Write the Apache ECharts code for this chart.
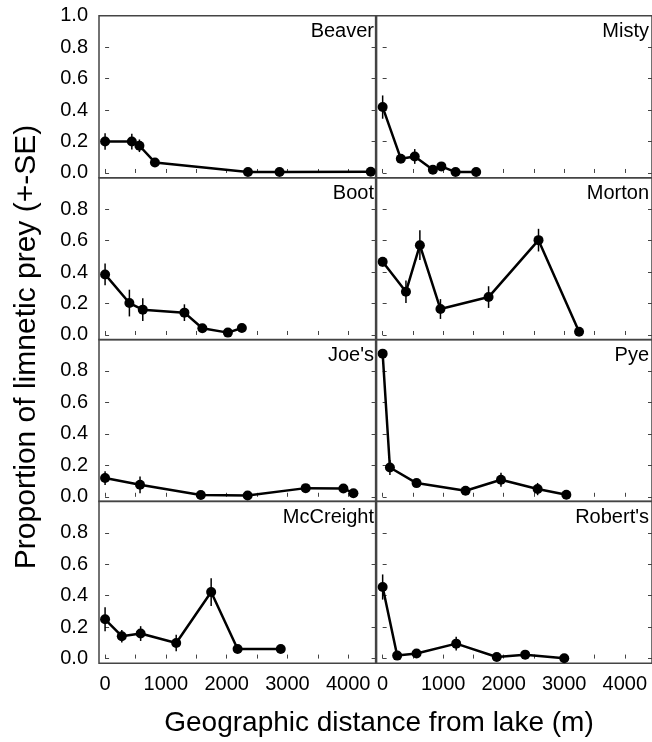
<!DOCTYPE html>
<html>
<head>
<meta charset="utf-8">
<script src="https://cdn.jsdelivr.net/npm/echarts@6/dist/echarts.min.js"></script>
<style>
  html, body { margin: 0; padding: 0; background: #fff; }
  #main { width: 652px; height: 742px; }
</style>
</head>
<body>
<div id="main"></div>
<script>
// 湖名 (panel order: left, right, row by row)
var lakeNames = ["Beaver", "Misty", "Boot", "Morton", "Joe's", "Pye", "McCreight", "Robert's"];

// distance from lake (m), proportion, SE
var beaverDist = [0, 440, 565, 820, 2350, 2870, 4370];
var beaverProp = [0.20, 0.20, 0.173, 0.067, 0.006, 0.006, 0.008];
var beaverSE = [0.053, 0.05, 0.04, 0, 0, 0, 0];

var mistyDist = [0, 300, 530, 830, 970, 1205, 1545];
var mistyProp = [0.419, 0.091, 0.105, 0.021, 0.042, 0.006, 0.006];
var mistySE = [0.074, 0, 0.047, 0, 0, 0, 0];

var bootDist = [0, 400, 620, 1305, 1600, 2020, 2250];
var bootProp = [0.385, 0.203, 0.161, 0.142, 0.043, 0.015, 0.044];
var bootSE = [0.069, 0.085, 0.072, 0.053, 0, 0, 0];

var mortonDist = [0, 385, 615, 955, 1750, 2575, 3245];
var mortonProp = [0.465, 0.275, 0.571, 0.165, 0.241, 0.603, 0.021];
var mortonSE = [0.03, 0.071, 0.095, 0.063, 0.069, 0.072, 0];

var joesDist = [0, 575, 1575, 2345, 3300, 3920, 4085];
var joesProp = [0.119, 0.076, 0.011, 0.008, 0.055, 0.053, 0.023];
var joesSE = [0.044, 0.053, 0, 0, 0, 0, 0];

var pyeDist = [0, 120, 560, 1370, 1955, 2560, 3035];
var pyeProp = [0.91, 0.186, 0.087, 0.038, 0.108, 0.049, 0.013];
var pyeSE = [0, 0.048, 0, 0, 0.044, 0.039, 0];

var mccreightDist = [0, 275, 585, 1170, 1745, 2180, 2890];
var mccreightProp = [0.25, 0.142, 0.159, 0.099, 0.423, 0.061, 0.061];
var mccreightSE = [0.076, 0.04, 0.047, 0.053, 0.088, 0, 0];

var robertsDist = [0, 240, 560, 1215, 1885, 2355, 3000];
var robertsProp = [0.455, 0.019, 0.032, 0.095, 0.01, 0.025, 0.002];
var robertsSE = [0.08, 0, 0, 0.044, 0, 0, 0];

var allDist = [beaverDist, mistyDist, bootDist, mortonDist, joesDist, pyeDist, mccreightDist, robertsDist];
var allProp = [beaverProp, mistyProp, bootProp, mortonProp, joesProp, pyeProp, mccreightProp, robertsProp];
var allSE = [beaverSE, mistySE, bootSE, mortonSE, joesSE, pyeSE, mccreightSE, robertsSE];

var xTickLabels = [0, 1000, 2000, 3000, 4000];
var xMinorTicks = [0, 500, 1000, 1500, 2000, 2500, 3000, 3500, 4000];
var yTicksTop = [0, 0.2, 0.4, 0.6, 0.8, 1.0];
var yTicksOther = [0, 0.2, 0.4, 0.6, 0.8];

var FONT = "'Liberation Sans', Arial, sans-serif";
var rowTops = [15.7, 177.7, 339.5, 501.3];
var rowH = 162;
var colLefts = [99, 376.6];
var colW = 276.6;

var grids = [], xAxes = [], yAxes = [], series = [], titles = [];

for (var i = 0; i < 8; i++) {
    var row = Math.floor(i / 2);
    var col = i % 2;
    var bottomRow = row == 3;

    grids.push({
        left: colLefts[col], top: rowTops[row], width: colW, height: rowH,
        show: true, borderColor: '#444', borderWidth: 1.5, backgroundColor: 'transparent'
    });

    xAxes.push({
        type: 'value', gridIndex: i, min: -100, max: 4450,
        axisLine: { show: false },
        splitLine: { show: false },
        axisTick: { show: true, inside: true, length: 4, customValues: xMinorTicks, lineStyle: { color: '#444', width: 1 } },
        axisLabel: {
            show: bottomRow, customValues: xTickLabels, margin: 11, fontSize: 20, color: '#000', fontFamily: FONT,
            formatter: function (v) { return String(v); }
        }
    });

    var ticks = row == 0 ? yTicksTop : yTicksOther;
    // left axis
    yAxes.push({
        type: 'value', gridIndex: i, min: -0.03, max: 1.0, position: 'left',
        axisLine: { show: false },
        splitLine: { show: false },
        axisTick: { show: true, inside: true, length: 4, customValues: ticks, lineStyle: { color: '#444', width: 1 } },
        axisLabel: {
            show: col == 0, customValues: ticks, margin: 11, fontSize: 20, color: '#000', fontFamily: FONT,
            formatter: function (v) { return v.toFixed(1); }
        }
    });
    // right axis (ticks only)
    yAxes.push({
        type: 'value', gridIndex: i, min: -0.03, max: 1.0, position: 'right',
        axisLine: { show: false },
        splitLine: { show: false },
        axisTick: { show: true, inside: true, length: 4, customValues: ticks, lineStyle: { color: '#444', width: 1 } },
        axisLabel: { show: false }
    });

    var pts = [], errs = [];
    for (var k = 0; k < allDist[i].length; k++) {
        pts.push([allDist[i][k], allProp[i][k]]);
        errs.push([allDist[i][k], allProp[i][k], allSE[i][k]]);
    }

    series.push({
        type: 'custom', xAxisIndex: i, yAxisIndex: 2 * i,
        data: errs, z: 3, silent: true,
        renderItem: function (params, api) {
            var x = api.value(0), y = api.value(1), se = api.value(2);
            if (!se) return null;
            var p1 = api.coord([x, y + se]);
            var p2 = api.coord([x, y - se]);
            return {
                type: 'line',
                shape: { x1: p1[0], y1: p1[1], x2: p2[0], y2: p2[1] },
                style: { stroke: '#000', lineWidth: 1.5 }
            };
        }
    });

    series.push({
        type: 'line', xAxisIndex: i, yAxisIndex: 2 * i,
        data: pts, z: 2, silent: true,
        symbol: 'circle', symbolSize: 10, showSymbol: true,
        itemStyle: { color: '#000' },
        lineStyle: { color: '#000', width: 2.5 }
    });

    titles.push({
        text: lakeNames[i],
        right: col == 0 ? 652 - 374 : 3,
        top: rowTops[row] + 6,
        padding: 0,
        textStyle: { fontSize: 20, fontWeight: 'normal', color: '#000', fontFamily: FONT }
    });
}

var myChart = echarts.init(document.getElementById('main'), null, { renderer: 'canvas' });

myChart.setOption({
    animation: false,
    backgroundColor: '#fff',
    title: titles,
    grid: grids,
    xAxis: xAxes,
    yAxis: yAxes,
    series: series,
    graphic: [
        {
            type: 'text', x: 379, y: 723,
            style: {
                text: 'Geographic distance from lake (m)', fontSize: 28, fill: '#000', fontFamily: FONT,
                align: 'center', verticalAlign: 'middle'
            }
        },
        {
            type: 'text', x: 27, y: 347, rotation: Math.PI / 2,
            style: {
                text: 'Proportion of limnetic prey (+-SE)', fontSize: 30, fill: '#000', fontFamily: FONT,
                align: 'center', verticalAlign: 'middle'
            }
        }
    ]
});
</script>
</body>
</html>
